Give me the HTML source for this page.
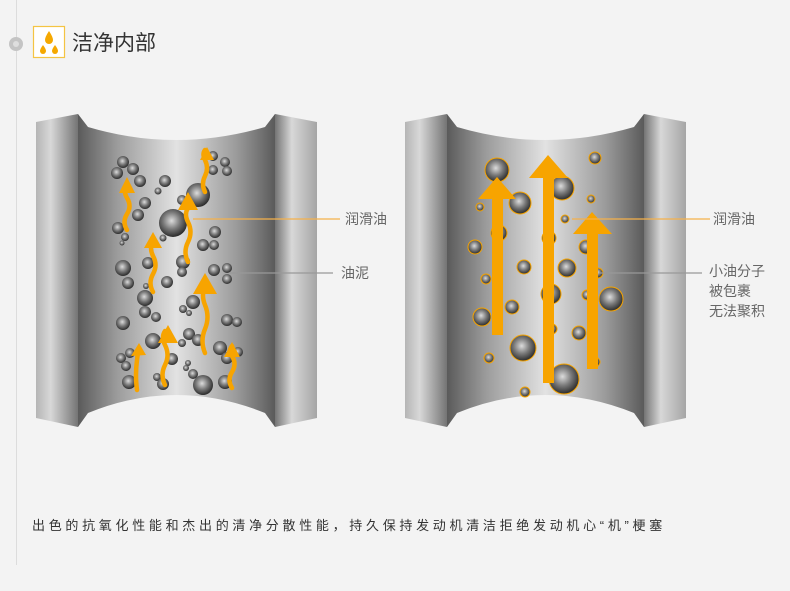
<!DOCTYPE html>
<html><head><meta charset="utf-8"><style>
html,body{margin:0;padding:0;background:#f3f3f3;width:790px;height:591px;overflow:hidden}
svg{display:block}
text{font-family:"Liberation Sans","Noto Sans CJK SC",sans-serif}
</style></head><body>
<svg width="790" height="591" viewBox="0 0 790 591" xmlns="http://www.w3.org/2000/svg">
<defs>
<linearGradient id="ls" x1="0" x2="1" y1="0" y2="0"><stop offset="0" stop-color="#b5b5b5"/><stop offset="0.35" stop-color="#d8d8d8"/><stop offset="1" stop-color="#747474"/></linearGradient>
<linearGradient id="rs" x1="0" x2="1" y1="0" y2="0"><stop offset="0" stop-color="#747474"/><stop offset="0.4" stop-color="#d8d8d8"/><stop offset="1" stop-color="#a5a5a5"/></linearGradient>
<linearGradient id="bd" gradientUnits="userSpaceOnUse" x1="78" x2="275" y1="0" y2="0"><stop offset="0" stop-color="#5a5a5a"/><stop offset="0.07" stop-color="#727272"/><stop offset="0.2" stop-color="#9c9c9c"/><stop offset="0.5" stop-color="#e2e2e2"/><stop offset="0.8" stop-color="#9c9c9c"/><stop offset="0.93" stop-color="#727272"/><stop offset="1" stop-color="#5a5a5a"/></linearGradient>
<radialGradient id="sp" cx="0.45" cy="0.42" r="0.6"><stop offset="0" stop-color="#dcdcdc"/><stop offset="0.5" stop-color="#7a7a7a"/><stop offset="1" stop-color="#262626"/></radialGradient>
<g id="panel">
<path d="M36,122 L78,114 L78,427 L36,418 Z" fill="url(#ls)"/>
<path d="M78,114 L88,127 Q176,153 265,127 L275,114 L275,427 L265,413 Q176,377 88,413 L78,427 Z" fill="url(#bd)"/>
<path d="M275,114 L317,122 L317,418 L275,427 Z" fill="url(#rs)"/>
</g>
</defs>
<line x1="16.5" y1="0" x2="16.5" y2="565" stroke="#dcdcdc" stroke-width="1"/>
<circle cx="16" cy="44" r="7" fill="#c4c4c4"/><circle cx="16" cy="44" r="3" fill="#dedede"/>
<rect x="33.5" y="26.5" width="31" height="31" fill="#fff" stroke="#f4c443" stroke-width="1.2"/>
<path d="M49,31 Q53,37 53,40 A4,4 0 0 1 45,40 Q45,37 49,31Z" fill="#f5a800"/>
<path d="M43,45 Q46,49 46,51 A3,3 0 0 1 40,51 Q40,49 43,45Z" fill="#f5a800"/>
<path d="M55,45 Q58,49 58,51 A3,3 0 0 1 52,51 Q52,49 55,45Z" fill="#f5a800"/>
<text x="72" y="50" font-size="21" fill="#333">洁净内部</text>

<use href="#panel"/>
<g fill="url(#sp)">
<circle cx="123" cy="162" r="6"/><circle cx="117" cy="173" r="6"/><circle cx="133" cy="169" r="6"/><circle cx="140" cy="181" r="6"/><circle cx="165" cy="181" r="6"/><circle cx="158" cy="191" r="3.5"/><circle cx="213" cy="156" r="5"/><circle cx="225" cy="162" r="5"/><circle cx="213" cy="170" r="5"/><circle cx="227" cy="171" r="5"/><circle cx="198" cy="195" r="12"/><circle cx="182" cy="200" r="5"/><circle cx="145" cy="203" r="6"/><circle cx="138" cy="215" r="6"/><circle cx="173" cy="223" r="14"/><circle cx="118" cy="228" r="6"/><circle cx="125" cy="237" r="4"/><circle cx="122" cy="243" r="2.5"/><circle cx="163" cy="238" r="3.5"/><circle cx="215" cy="232" r="6"/><circle cx="203" cy="245" r="6"/><circle cx="214" cy="245" r="5"/><circle cx="183" cy="262" r="7"/><circle cx="182" cy="272" r="5"/><circle cx="123" cy="268" r="8"/><circle cx="128" cy="283" r="6"/><circle cx="148" cy="263" r="6"/><circle cx="167" cy="282" r="6"/><circle cx="214" cy="270" r="6"/><circle cx="227" cy="268" r="5"/><circle cx="227" cy="279" r="5"/><circle cx="146" cy="286" r="3"/><circle cx="145" cy="298" r="8"/><circle cx="145" cy="312" r="6"/><circle cx="156" cy="317" r="5"/><circle cx="193" cy="302" r="7"/><circle cx="183" cy="309" r="4"/><circle cx="189" cy="313" r="3"/><circle cx="123" cy="323" r="7"/><circle cx="227" cy="320" r="6"/><circle cx="237" cy="322" r="5"/><circle cx="153" cy="341" r="8"/><circle cx="189" cy="334" r="6"/><circle cx="198" cy="340" r="6"/><circle cx="182" cy="343" r="4"/><circle cx="220" cy="348" r="7"/><circle cx="227" cy="358" r="6"/><circle cx="238" cy="352" r="5"/><circle cx="121" cy="358" r="5"/><circle cx="130" cy="353" r="5"/><circle cx="126" cy="366" r="5"/><circle cx="172" cy="359" r="6"/><circle cx="188" cy="363" r="3"/><circle cx="186" cy="368" r="3"/><circle cx="193" cy="374" r="5"/><circle cx="157" cy="377" r="4"/><circle cx="163" cy="384" r="6"/><circle cx="129" cy="382" r="7"/><circle cx="203" cy="385" r="10"/><circle cx="225" cy="382" r="7"/>
</g>
<g fill="none" stroke="#f7a400" stroke-width="4.5" stroke-linecap="round">
<path d="M127,230 q-5,-8 0,-16 q5,-8 0,-16 q-4,-7 0,-12"/>
<path d="M153,292 q-5,-9 0,-18 q5,-9 0,-18 q-4,-8 0,-16"/>
<path d="M188,262 q-5,-10 0,-20 q5,-10 0,-20 q-4,-8 0,-14"/>
<path d="M205,192 q-4,-8 0,-16 q4,-8 0,-16 q-3,-6 0,-10"/>
<path d="M205,353 q-5,-12 0,-24 q5,-12 0,-24 q-4,-10 0,-18"/>
<path d="M165,385 q-5,-10 0,-20 q5,-10 0,-20 q-4,-8 0,-14"/>
<path d="M137,390 q-2,-15 0,-30 q1,-8 2,-12"/>
<path d="M232,388 q-5,-8 0,-16 q5,-8 0,-16 q-4,-5 0,-10"/>
</g>
<g fill="#f7a400">
<polygon points="127,177 119,193 135,193"/>
<polygon points="153,232 144,248 162,248"/>
<polygon points="188,192 178,210 198,210"/>
<polygon points="207,147 200,160 214,160"/>
<polygon points="205,273 193,294 217,294"/>
<polygon points="168,325 158,343 178,343"/>
<polygon points="139,343 131,356 146,355"/>
<polygon points="232,342 224,357 240,357"/>
</g>
<line x1="193" y1="219" x2="340" y2="219" stroke="#f5b14a" stroke-width="1.2"/>
<line x1="230" y1="273" x2="333" y2="273" stroke="#999" stroke-width="1.2"/>
<text x="345" y="224" font-size="14" fill="#666">润滑油</text>
<text x="341" y="278" font-size="14" fill="#666">油泥</text>

<use href="#panel" x="369"/>
<g fill="url(#sp)" stroke="#f5a300" stroke-width="1">
<circle cx="497" cy="170" r="12"/><circle cx="595" cy="158" r="6"/><circle cx="562" cy="188" r="12"/><circle cx="520" cy="203" r="11"/><circle cx="480" cy="207" r="4"/><circle cx="591" cy="199" r="4"/><circle cx="565" cy="219" r="4"/><circle cx="499" cy="233" r="8"/><circle cx="549" cy="238" r="7"/><circle cx="475" cy="247" r="7"/><circle cx="586" cy="247" r="7"/><circle cx="524" cy="267" r="7"/><circle cx="567" cy="268" r="9"/><circle cx="486" cy="279" r="5"/><circle cx="598" cy="273" r="5"/><circle cx="551" cy="294" r="10"/><circle cx="587" cy="295" r="5"/><circle cx="611" cy="299" r="12"/><circle cx="512" cy="307" r="7"/><circle cx="482" cy="317" r="9"/><circle cx="552" cy="329" r="5"/><circle cx="579" cy="333" r="7"/><circle cx="523" cy="348" r="13"/><circle cx="489" cy="358" r="5"/><circle cx="595" cy="362" r="5"/><circle cx="564" cy="379" r="15"/><circle cx="525" cy="392" r="5"/>
</g>
<g fill="#f7a400">
<rect x="492" y="196" width="11" height="139"/><polygon points="497,177 478,199 516,199"/>
<rect x="543" y="175" width="11" height="208"/><polygon points="548,155 529,178 568,178"/>
<rect x="587" y="231" width="11" height="138"/><polygon points="592,212 573,234 612,234"/>
</g>
<line x1="572" y1="219" x2="710" y2="219" stroke="#f5b14a" stroke-width="1.2"/>
<line x1="600" y1="273" x2="702" y2="273" stroke="#999" stroke-width="1.2"/>
<text x="713" y="224" font-size="14" fill="#666">润滑油</text>
<text x="709" y="276" font-size="14" fill="#666">小油分子</text>
<text x="709" y="296" font-size="14" fill="#666">被包裹</text>
<text x="709" y="316" font-size="14" fill="#666">无法聚积</text>

<text x="32" y="530" font-size="13" fill="#333" letter-spacing="3.7">出色的抗氧化性能和杰出的清净分散性能，持久保持发动机清洁拒绝发动机心“机”梗塞</text>
</svg>
</body></html>
